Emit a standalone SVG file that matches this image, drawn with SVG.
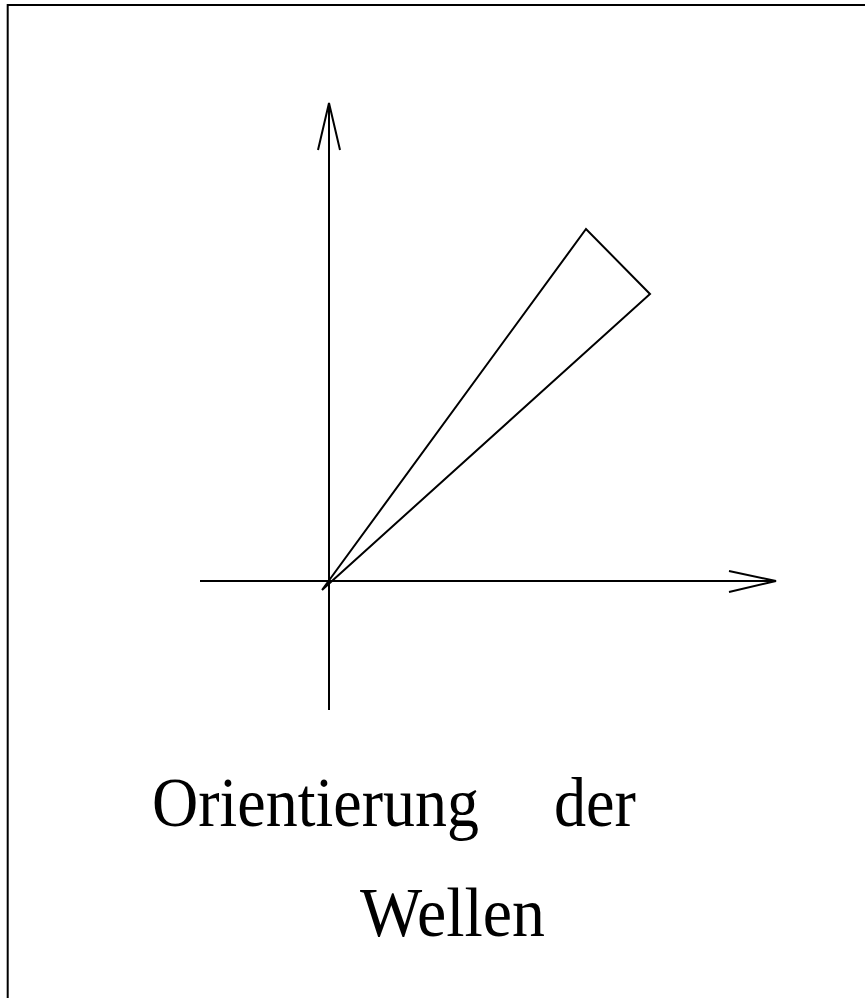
<svg xmlns="http://www.w3.org/2000/svg" width="865" height="998" viewBox="0 0 865 998">
<style>
.ln{fill:none;stroke:#000;stroke-width:2;stroke-linejoin:miter}
.t{font-family:"Liberation Serif","Times New Roman",serif;font-size:70px;fill:#000}
</style>
<rect width="865" height="998" fill="#fff"/>
<g id="frame"><path class="ln" d="M7.7,1000 V5 H900"/></g>
<g id="connectors">
<path class="ln" d="M329,710 V103"/>
<path class="ln" d="M318,150 L329,103 L340,150"/>
<path class="ln" d="M200,581 H776"/>
<path class="ln" d="M729,571 L776,581 L729,592"/>
</g>
<g id="wedge"><path class="ln" d="M322,590 L586,229 L650,294 L322,590"/></g>
<g id="label">
<text class="t" x="152" y="826" textLength="327" lengthAdjust="spacingAndGlyphs">Orientierung</text>
<text class="t" x="554" y="826" textLength="82" lengthAdjust="spacingAndGlyphs">der</text>
<text class="t" x="360" y="936" textLength="185" lengthAdjust="spacingAndGlyphs">Wellen</text>
</g>
</svg>
